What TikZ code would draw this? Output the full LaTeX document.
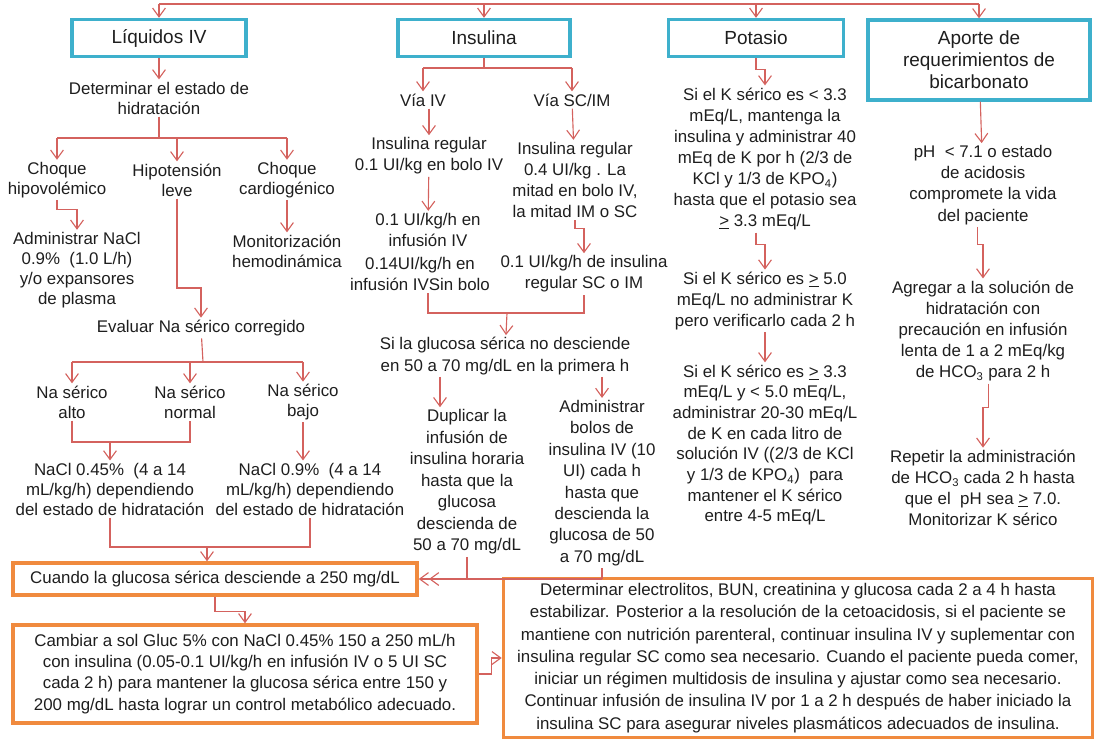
\documentclass[tikz,border=0pt]{standalone}
\usepackage{fontspec}
\setmainfont{Liberation Sans}
\usetikzlibrary{arrows.meta,positioning}
\definecolor{hdrteal}{RGB}{62,176,204}
\definecolor{boxorange}{RGB}{240,138,62}
\definecolor{linkred}{RGB}{212,98,94}
\definecolor{inkgray}{RGB}{30,30,30}
\begin{document}
\begin{tikzpicture}[x=0.025cm,y=-0.025cm,
  hdr/.style={draw=hdrteal,line width=2.4pt,align=center,minimum height=0.925cm,font=\fontsize{13.5}{15.6}\selectfont,text=inkgray},
  obox/.style={draw=boxorange,line width=2.4pt,align=center,text=inkgray,font=\fontsize{12}{15}\selectfont},
  txt/.style={align=center,inner sep=1.5pt,font=\fontsize{12}{15}\selectfont,text=inkgray},
  txtl/.style={txt,font=\fontsize{12}{14.2}\selectfont},
  link/.style={linkred,line width=0.8pt},
  flow/.style={-{Straight Barb[length=2.2mm,width=3.2mm]},linkred,line width=0.8pt},
  dflow/.style={-{Straight Barb[length=2.2mm,width=3.2mm]Straight Barb[length=2.2mm,width=3.2mm]},linkred,line width=0.8pt}]
\useasboundingbox (0,0) rectangle (1097,742);
\node[hdr,minimum width=4.35cm] (liq) at (159,38) {Líquidos IV};
\node[hdr,minimum width=4.3cm] (ins) at (484,38) {Insulina};
\node[hdr,minimum width=4.375cm] (pot) at (756,38) {Potasio};
\node[hdr,minimum width=5.55cm,minimum height=2cm] (bic) at (979,60) {Aporte de\\requerimientos de\\bicarbonato};
\coordinate (top1) at (159,4);
\coordinate (top2) at (979,4);
\draw[link] (top1) -- (top2);
\foreach \n in {liq,ins,pot,bic}
  \draw[flow] (\n.north |- top1) -- (\n.north);

\node[txtl] (det) at (159,98) {Determinar el estado de\\hidratación};
\node[txtl] (hipo) at (57,180) {Choque\\hipovolémico};
\node[txtl] (hten) at (177,180) {Hipotensión\\leve};
\node[txtl] (card) at (287,180) {Choque\\cardiogénico};
\node[txtl] (admna) at (77,270) {Administrar NaCl\\0.9\%\ \ (1.0 L/h)\\y/o expansores\\de plasma};
\node[txtl] (moni) at (287,251) {Monitorización\\hemodinámica};
\node[txtl] (eva) at (201,328) {Evaluar Na sérico corregido};
\node[txtl] (alto) at (72,402) {Na sérico\\alto};
\node[txtl] (norm) at (190,402) {Na sérico\\normal};
\node[txtl] (bajo) at (303,402) {Na sérico\\bajo};
\node[txtl] (nacla) at (110,489) {NaCl 0.45\%\ \ (4 a 14\\mL/kg/h) dependiendo\\del estado de hidratación};
\node[txtl] (naclb) at (310,489) {NaCl 0.9\%\ \ (4 a 14\\mL/kg/h) dependiendo\\del estado de hidratación};
\coordinate (j1) at (159,138);
\coordinate (j2) at (177,288);
\coordinate (j3) at (203,362);
\coordinate (j4) at (110,442);
\coordinate (j5) at (207,547);
\draw[flow] (liq) -- (det);
\draw[link] (det) -- (j1);
\draw[link] (hipo |- j1) -- (card |- j1);
\foreach \n in {hipo,hten,card}
  \draw[flow] (\n |- j1) -- (\n);
\draw[flow] (hipo.south) -- ++(0,9) -| (admna.north);
\draw[flow] (card) -- (moni);
\draw[flow] (hten.south) -- (hten.south |- j2) -| (eva.north);
\draw[link] (eva) -- (j3);
\draw[link] (alto |- j3) -- (bajo |- j3);
\foreach \n in {alto,norm,bajo}
  \draw[flow] (\n |- j3) -- (\n);
\draw[link] (alto.south) |- (norm.south |- j4) -- (norm.south);
\draw[flow] (j4) -- (nacla);
\draw[flow] (bajo) -- (bajo |- naclb.north);
\draw[link] (nacla.south) |- (naclb.south |- j5) -- (naclb.south);

\node[txt] (viv) at (423,100) {Vía IV};
\node[txt] (vsc) at (572,100) {Vía SC/IM};
\node[txt] (irb) at (429,156) {Insulina regular\\0.1 UI/kg en bolo IV};
\node[txt] (irm) at (575,180) {Insulina regular\\0.4 UI/kg . La\\mitad en bolo IV,\\la mitad IM o SC};
\node[txt] (infa) at (428,230) {0.1 UI/kg/h en\\infusión IV};
\node[txt] (infb) at (420,274) {0.14UI/kg/h en\\infusión IVSin bolo};
\node[txt] (insc) at (584,274) {0.1 UI/kg/h de insulina\\regular SC o IM};
\node[txt] (glu) at (505,356) {Si la glucosa sérica no desciende\\en 50 a 70 mg/dL en la primera h};
\node[txt,font=\fontsize{12}{15.3}\selectfont] (dup) at (467,482) {Duplicar la\\infusión de\\insulina horaria\\hasta que la\\glucosa\\descienda de\\50 a 70 mg/dL};
\node[txt,font=\fontsize{12}{15.2}\selectfont] (bolo) at (602,483) {Administrar\\bolos de\\insulina IV (10\\UI) cada h\\hasta que\\descienda la\\glucosa de 50\\a 70 mg/dL};
\coordinate (j6) at (484,68);
\coordinate (j7) at (507,313);
\coordinate (j8) at (598,579);
\coordinate (xl) at (440,0);
\draw[link] (ins) -- (j6);
\draw[link] (viv |- j6) -- (vsc |- j6);
\foreach \n in {viv,vsc}
  \draw[flow] (\n |- j6) -- (\n);
\draw[flow] (viv.south -| irb) -- (irb);
\draw[flow] (vsc) -- (irm);
\draw[flow] (irb) -- (infa);
\draw[flow] (irm.south) -- ++(0,8) -| (insc.north);
\draw[link] (infa |- infb.south) |- (insc.south |- j7) -- (insc.south);
\draw[flow] (j7) -- (glu);
\draw[flow] (glu.south -| xl) -- (dup.north -| xl);
\draw[flow] (glu.south -| bolo) -- (bolo);

\node[txt,font=\fontsize{12}{15}\selectfont] (ka) at (765,159) {Si el K sérico es < 3.3\\mEq/L, mantenga la\\insulina y administrar 40\\mEq de K por h (2/3 de\\KCl y 1/3 de KPO\textsubscript{4})\\hasta que el potasio sea\\\underline{>} 3.3 mEq/L};
\node[txt] (kb) at (765,301) {Si el K sérico es \underline{>} 5.0\\mEq/L no administrar K\\pero verificarlo cada 2 h};
\node[txt,font=\fontsize{12}{14.7}\selectfont] (kc) at (765,445) {Si el K sérico es \underline{>} 3.3\\mEq/L y < 5.0 mEq/L,\\administrar 20-30 mEq/L\\de K en cada litro de\\solución IV ((2/3 de KCl\\y 1/3 de KPO\textsubscript{4})\ \ para\\mantener el K sérico\\entre 4-5 mEq/L};
\draw[flow] (pot.south) -- ++(0,11) -| (ka.north);
\draw[flow] (ka.south -| pot) -- ++(0,12) -| (kb.north);
\draw[flow] (kb) -- (kc);

\node[txt] (pha) at (983,185) {pH\ \ < 7.1 o estado\\de acidosis\\compromete la vida\\del paciente};
\node[txt] (hco) at (983,331) {Agregar a la solución de\\hidratación con\\precaución en infusión\\lenta de 1 a 2 mEq/kg\\de HCO\textsubscript{3} para 2 h};
\node[txt] (rep) at (983,488) {Repetir la administración\\de HCO\textsubscript{3} cada 2 h hasta\\que el\ \ pH sea \underline{>} 7.0.\\Monitorizar K sérico};
\draw[flow] (bic) -- (pha);
\draw[flow] ([xshift=-4pt]pha.south) -- ++(0,18) -| (hco.north);
\draw[flow] ([xshift=4pt]hco.south) -- ++(0,24) -| (rep.north);

\node[obox,minimum width=10.1cm,minimum height=0.8cm] (cuan) at (215,579) {Cuando la glucosa sérica desciende a 250 mg/dL};
\node[obox,minimum width=11.6cm,minimum height=2.45cm,font=\fontsize{12}{15}\selectfont] (camb) at (245,674) {Cambiar a sol Gluc 5\% con NaCl 0.45\% 150 a 250 mL/h\\con insulina (0.05-0.1 UI/kg/h en infusión IV o 5 UI SC\\cada 2 h) para mantener la glucosa sérica entre 150 y\\200 mg/dL hasta lograr un control metabólico adecuado.};
\node[obox,minimum width=14.725cm,minimum height=3.9cm,font=\fontsize{12}{15.8}\selectfont] (elec) at (798,658) {Determinar electrolitos, BUN, creatinina y glucosa cada 2 a 4 h hasta\\estabilizar. Posterior a la resolución de la cetoacidosis, si el paciente se\\mantiene con nutrición parenteral, continuar insulina IV y suplementar con\\insulina regular SC como sea necesario. Cuando el paciente pueda comer,\\iniciar un régimen multidosis de insulina y ajustar como sea necesario.\\Continuar infusión de insulina IV por 1 a 2 h después de haber iniciado la\\insulina SC para asegurar niveles plasmáticos adecuados de insulina.};
\draw[flow] (j5) -- (j5 |- cuan.north);
\draw[link] (dup.south) -- (dup.south |- j8);
\draw[link] (bolo.south) -- (bolo.south |- j8);
\draw[dflow] (bolo.south |- j8) -- (cuan.east);
\draw[flow] (cuan.south) -- ++(0,15) -| (camb.north);
\draw[flow] (camb.east) -- ++(13,0) |- (elec.west);
\end{tikzpicture}
\end{document}
